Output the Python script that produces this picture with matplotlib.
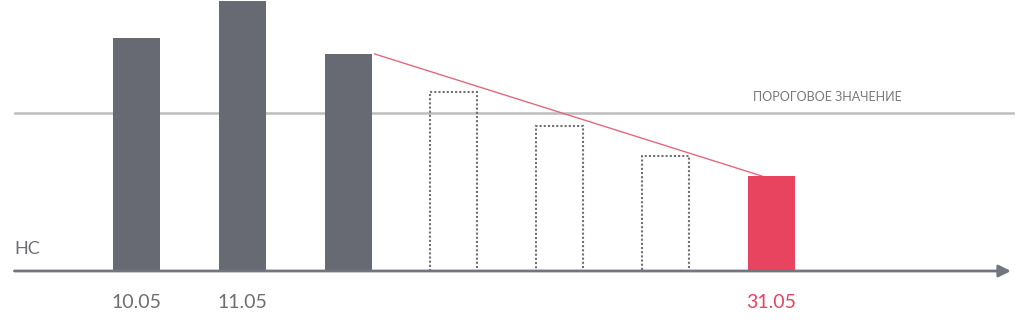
import matplotlib.pyplot as plt
import numpy as np

plt.rcParams['font.family'] = ['Lato', 'DejaVu Sans']

# values (measured from the baseline, arbitrary units)
actual = [233, 270, 217]
forecast = [179, 145, 115]
final = [95]
threshold = 158
date_labels = {0: '10.05', 1: '11.05', 6: '31.05'}

gray = '#676a72'
red = '#e8435f'

fig = plt.figure(figsize=(10.24, 3.34), dpi=100)
ax = fig.add_axes([0, 63 / 334, 1, 271 / 334])
ax.set_xlim(-1.290, 8.388)
ax.set_ylim(0, 271)
ax.axis('off')

w = 0.444
x_act = np.arange(len(actual))
x_fc = np.arange(len(forecast)) + len(actual)
x_fin = np.arange(len(final)) + len(actual) + len(forecast)

ax.bar(x_act, actual, width=w, color=gray, zorder=3)
ax.bar(x_fc, forecast, width=w, facecolor='none', edgecolor='#707070',
       linestyle=(0, (1, 1)), linewidth=1.5, zorder=3)
ax.bar(x_fin, final, width=w, color=red, zorder=3)

# threshold line
ax.axhline(threshold, xmin=15 / 1024, xmax=1013 / 1024, color='#bdbdbd', lw=1.8, zorder=1)
ax.text(6.53, threshold + 10, 'ПОРОГОВОЕ ЗНАЧЕНИЕ', color='#77787d', fontsize=9,
        ha='center', va='bottom')

# trend line from last actual bar to final bar
ax.plot([x_act[-1] + w / 2 + 0.03, x_fin[0] - 0.09], [actual[-1], final[0]],
        color='#e0697e', lw=1, zorder=2)

# x axis arrow
ax.annotate('', xy=(8.29, 0), xytext=(-1.18, 0),
            arrowprops=dict(arrowstyle='-|>', color='#72757d', lw=2,
                            mutation_scale=18), annotation_clip=False, zorder=4)
ax.text(-1.15, 14, 'НС', color='#6d6e73', fontsize=13, ha='left', va='bottom')

for i, lab in date_labels.items():
    ax.text(i, -32, lab, color=red if i == 6 else '#6d6e73', fontsize=14,
            ha='center', va='center', clip_on=False)

fig.savefig('out.png', dpi=100)
